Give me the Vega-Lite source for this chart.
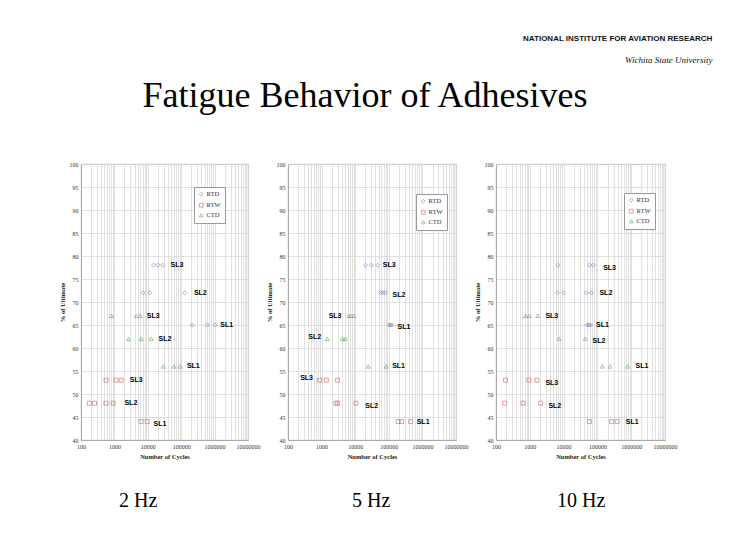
{
  "$schema": "https://vega.github.io/schema/vega-lite/v6.json",
  "background": "white",
  "padding": {"top": 34, "left": 58, "right": 5, "bottom": 5},
  "title": {"text": "NATIONAL INSTITUTE FOR AVIATION RESEARCH", "subtitle": "Wichita State University", "anchor": "end", "dx": 35, "font": "Liberation Sans", "fontSize": 8, "fontWeight": "bold", "color": "#111", "subtitleFont": "Liberation Serif", "subtitleFontStyle": "italic", "subtitleFontSize": 9, "subtitleColor": "#111", "subtitlePadding": 13, "offset": 13},
  "datasets": {
    "points": [
      {"hz": 2, "s": "RTD", "sl": "SL3", "c": 14800, "p": 78}, {"hz": 2, "s": "RTD", "sl": "SL3", "c": 20400, "p": 78}, {"hz": 2, "s": "RTD", "sl": "SL3", "c": 28000, "p": 78},
      {"hz": 2, "s": "RTD", "sl": "SL2", "c": 7400, "p": 72}, {"hz": 2, "s": "RTD", "sl": "SL2", "c": 11500, "p": 72}, {"hz": 2, "s": "RTD", "sl": "SL2", "c": 129000, "p": 72},
      {"hz": 2, "s": "RTD", "sl": "SL1", "c": 214000, "p": 65}, {"hz": 2, "s": "RTD", "sl": "SL1", "c": 617000, "p": 65}, {"hz": 2, "s": "RTD", "sl": "SL1", "c": 1050000, "p": 65},
      {"hz": 2, "s": "CTD", "sl": "SL3", "c": 813, "p": 67}, {"hz": 2, "s": "CTD", "sl": "SL3", "c": 4560, "p": 67}, {"hz": 2, "s": "CTD", "sl": "SL3", "c": 6000, "p": 67},
      {"hz": 2, "s": "CTD", "sl": "SL2", "c": 2650, "p": 62}, {"hz": 2, "s": "CTD", "sl": "SL2", "c": 6300, "p": 62}, {"hz": 2, "s": "CTD", "sl": "SL2", "c": 12600, "p": 62},
      {"hz": 2, "s": "CTD", "sl": "SL1", "c": 29500, "p": 56}, {"hz": 2, "s": "CTD", "sl": "SL1", "c": 61000, "p": 56}, {"hz": 2, "s": "CTD", "sl": "SL1", "c": 93600, "p": 56},
      {"hz": 2, "s": "RTW", "sl": "SL3", "c": 560, "p": 53}, {"hz": 2, "s": "RTW", "sl": "SL3", "c": 1120, "p": 53}, {"hz": 2, "s": "RTW", "sl": "SL3", "c": 1590, "p": 53},
      {"hz": 2, "s": "RTW", "sl": "SL2", "c": 178, "p": 48}, {"hz": 2, "s": "RTW", "sl": "SL2", "c": 254, "p": 48}, {"hz": 2, "s": "RTW", "sl": "SL2", "c": 560, "p": 48}, {"hz": 2, "s": "RTW", "sl": "SL2", "c": 910, "p": 48},
      {"hz": 2, "s": "RTW", "sl": "SL1", "c": 6300, "p": 44}, {"hz": 2, "s": "RTW", "sl": "SL1", "c": 9550, "p": 44},

      {"hz": 5, "s": "RTD", "sl": "SL3", "c": 20400, "p": 78}, {"hz": 5, "s": "RTD", "sl": "SL3", "c": 30200, "p": 78}, {"hz": 5, "s": "RTD", "sl": "SL3", "c": 46600, "p": 78},
      {"hz": 5, "s": "RTD", "sl": "SL2", "c": 57000, "p": 72}, {"hz": 5, "s": "RTD", "sl": "SL2", "c": 66000, "p": 72}, {"hz": 5, "s": "RTD", "sl": "SL2", "c": 79000, "p": 72},
      {"hz": 5, "s": "RTD", "sl": "SL1", "c": 103000, "p": 65}, {"hz": 5, "s": "RTD", "sl": "SL1", "c": 112000, "p": 65}, {"hz": 5, "s": "RTD", "sl": "SL1", "c": 121000, "p": 65},
      {"hz": 5, "s": "CTD", "sl": "SL3", "c": 6400, "p": 67}, {"hz": 5, "s": "CTD", "sl": "SL3", "c": 7600, "p": 67}, {"hz": 5, "s": "CTD", "sl": "SL3", "c": 9100, "p": 67},
      {"hz": 5, "s": "CTD", "sl": "SL2", "c": 1480, "p": 62}, {"hz": 5, "s": "CTD", "sl": "SL2", "c": 4150, "p": 62}, {"hz": 5, "s": "CTD", "sl": "SL2", "c": 5100, "p": 62},
      {"hz": 5, "s": "CTD", "sl": "SL1", "c": 24500, "p": 56}, {"hz": 5, "s": "CTD", "sl": "SL1", "c": 83000, "p": 56},
      {"hz": 5, "s": "RTW", "sl": "SL3", "c": 875, "p": 53}, {"hz": 5, "s": "RTW", "sl": "SL3", "c": 1380, "p": 53}, {"hz": 5, "s": "RTW", "sl": "SL3", "c": 3000, "p": 53},
      {"hz": 5, "s": "RTW", "sl": "SL2", "c": 2630, "p": 48}, {"hz": 5, "s": "RTW", "sl": "SL2", "c": 3000, "p": 48}, {"hz": 5, "s": "RTW", "sl": "SL2", "c": 10500, "p": 48},
      {"hz": 5, "s": "RTW", "sl": "SL1", "c": 190000, "p": 44}, {"hz": 5, "s": "RTW", "sl": "SL1", "c": 240000, "p": 44}, {"hz": 5, "s": "RTW", "sl": "SL1", "c": 447000, "p": 44},

      {"hz": 10, "s": "RTD", "sl": "SL3", "c": 6900, "p": 78}, {"hz": 10, "s": "RTD", "sl": "SL3", "c": 58000, "p": 78}, {"hz": 10, "s": "RTD", "sl": "SL3", "c": 76000, "p": 78},
      {"hz": 10, "s": "RTD", "sl": "SL2", "c": 6600, "p": 72}, {"hz": 10, "s": "RTD", "sl": "SL2", "c": 10000, "p": 72}, {"hz": 10, "s": "RTD", "sl": "SL2", "c": 47000, "p": 72}, {"hz": 10, "s": "RTD", "sl": "SL2", "c": 66000, "p": 72},
      {"hz": 10, "s": "RTD", "sl": "SL1", "c": 49000, "p": 65}, {"hz": 10, "s": "RTD", "sl": "SL1", "c": 56000, "p": 65}, {"hz": 10, "s": "RTD", "sl": "SL1", "c": 62000, "p": 65},
      {"hz": 10, "s": "CTD", "sl": "SL3", "c": 745, "p": 67}, {"hz": 10, "s": "CTD", "sl": "SL3", "c": 980, "p": 67}, {"hz": 10, "s": "CTD", "sl": "SL3", "c": 1730, "p": 67},
      {"hz": 10, "s": "CTD", "sl": "SL2", "c": 7300, "p": 62}, {"hz": 10, "s": "CTD", "sl": "SL2", "c": 43500, "p": 62},
      {"hz": 10, "s": "CTD", "sl": "SL1", "c": 141000, "p": 56}, {"hz": 10, "s": "CTD", "sl": "SL1", "c": 235000, "p": 56}, {"hz": 10, "s": "CTD", "sl": "SL1", "c": 776000, "p": 56},
      {"hz": 10, "s": "RTW", "sl": "SL3", "c": 190, "p": 53}, {"hz": 10, "s": "RTW", "sl": "SL3", "c": 935, "p": 53}, {"hz": 10, "s": "RTW", "sl": "SL3", "c": 1620, "p": 53},
      {"hz": 10, "s": "RTW", "sl": "SL2", "c": 180, "p": 48}, {"hz": 10, "s": "RTW", "sl": "SL2", "c": 635, "p": 48}, {"hz": 10, "s": "RTW", "sl": "SL2", "c": 2100, "p": 48},
      {"hz": 10, "s": "RTW", "sl": "SL1", "c": 58000, "p": 44}, {"hz": 10, "s": "RTW", "sl": "SL1", "c": 263000, "p": 44}, {"hz": 10, "s": "RTW", "sl": "SL1", "c": 383000, "p": 44}
    ],
    "labels": [
      {"hz": 2, "t": "SL3", "c": 47900, "p": 78}, {"hz": 2, "t": "SL2", "c": 240000, "p": 72}, {"hz": 2, "t": "SL1", "c": 1480000, "p": 65},
      {"hz": 2, "t": "SL3", "c": 9300, "p": 67}, {"hz": 2, "t": "SL2", "c": 20900, "p": 62}, {"hz": 2, "t": "SL1", "c": 148000, "p": 56},
      {"hz": 2, "t": "SL3", "c": 2900, "p": 53}, {"hz": 2, "t": "SL2", "c": 2000, "p": 48}, {"hz": 2, "t": "SL1", "c": 14800, "p": 43.5},
      {"hz": 5, "t": "SL3", "c": 66000, "p": 78}, {"hz": 5, "t": "SL2", "c": 129000, "p": 71.5}, {"hz": 5, "t": "SL1", "c": 182000, "p": 64.5},
      {"hz": 5, "t": "SL3", "c": 1620, "p": 67}, {"hz": 5, "t": "SL2", "c": 400, "p": 62.5}, {"hz": 5, "t": "SL1", "c": 126000, "p": 56},
      {"hz": 5, "t": "SL3", "c": 230, "p": 53.5}, {"hz": 5, "t": "SL2", "c": 20000, "p": 47.5}, {"hz": 5, "t": "SL1", "c": 676000, "p": 44},
      {"hz": 10, "t": "SL3", "c": 148000, "p": 77.5}, {"hz": 10, "t": "SL2", "c": 115000, "p": 72}, {"hz": 10, "t": "SL1", "c": 91000, "p": 65},
      {"hz": 10, "t": "SL3", "c": 2900, "p": 67}, {"hz": 10, "t": "SL2", "c": 72000, "p": 61.5}, {"hz": 10, "t": "SL1", "c": 1350000, "p": 56},
      {"hz": 10, "t": "SL3", "c": 2900, "p": 52.5}, {"hz": 10, "t": "SL2", "c": 3550, "p": 47.5}, {"hz": 10, "t": "SL1", "c": 692000, "p": 44}
    ]
  },
  "vconcat": [
    {
      "title": {"text": "Fatigue Behavior of Adhesives", "anchor": "middle", "dx": -3, "font": "Liberation Serif", "fontSize": 36, "fontWeight": "normal", "color": "black", "offset": 46},
      "bounds": "flush",
      "spacing": 40,
      "resolve": {"scale": {"color": "independent", "shape": "independent"}},
      "hconcat": [
        {
          "width": 167, "height": 276,
          "title": {"text": "2 Hz", "orient": "bottom", "anchor": "start", "dx": 60, "font": "Liberation Serif", "fontSize": 20, "fontWeight": "normal", "color": "black", "offset": 31},
          "encoding": {
            "x": {"field": "c", "type": "quantitative", "scale": {"type": "log", "domain": [100, 10000000], "nice": false}, "axis": {"title": "Number of Cycles", "values": [100,200,300,400,500,600,700,800,900,1000,2000,3000,4000,5000,6000,7000,8000,9000,10000,20000,30000,40000,50000,60000,70000,80000,90000,100000,200000,300000,400000,500000,600000,700000,800000,900000,1000000,2000000,3000000,4000000,5000000,6000000,7000000,8000000,9000000,10000000], "labelExpr": "abs(log(datum.value)/LN10 - round(log(datum.value)/LN10)) < 0.000001 ? format(datum.value, 'd') : ''"}},
            "y": {"field": "p", "type": "quantitative", "scale": {"domain": [40, 100], "nice": false}, "axis": {"title": "% of Ultimate", "values": [40,45,50,55,60,65,70,75,80,85,90,95,100]}}
          },
          "layer": [
            {
              "data": {"name": "points"},
              "transform": [{"filter": "datum.hz == 2"}],
              "mark": {"type": "point", "filled": false, "size": 16, "strokeWidth": 0.8},
              "encoding": {
                "color": {"field": "s", "type": "nominal", "scale": {"domain": ["RTD", "RTW", "CTD"], "range": ["#6f6fc4", "#cc5555", "#55a055"]}, "legend": {"title": null, "orient": "none", "legendX": 113, "legendY": 23}},
                "shape": {"field": "s", "type": "nominal", "scale": {"domain": ["RTD", "RTW", "CTD"], "range": ["diamond", "square", "triangle-up"]}, "legend": {"title": null, "orient": "none", "legendX": 113, "legendY": 23}}
              }
            },
            {
              "data": {"name": "labels"},
              "transform": [{"filter": "datum.hz == 2"}],
              "mark": {"type": "text", "align": "left", "baseline": "middle", "font": "Liberation Sans", "fontWeight": "bold", "fontSize": 7, "color": "black"},
              "encoding": {"text": {"field": "t"}}
            }
          ]
        },
        {
          "width": 168, "height": 276,
          "title": {"text": "5 Hz", "orient": "bottom", "anchor": "start", "dx": 86, "font": "Liberation Serif", "fontSize": 20, "fontWeight": "normal", "color": "black", "offset": 31},
          "encoding": {
            "x": {"field": "c", "type": "quantitative", "scale": {"type": "log", "domain": [100, 10000000], "nice": false}, "axis": {"title": "Number of Cycles", "values": [100,200,300,400,500,600,700,800,900,1000,2000,3000,4000,5000,6000,7000,8000,9000,10000,20000,30000,40000,50000,60000,70000,80000,90000,100000,200000,300000,400000,500000,600000,700000,800000,900000,1000000,2000000,3000000,4000000,5000000,6000000,7000000,8000000,9000000,10000000], "labelExpr": "abs(log(datum.value)/LN10 - round(log(datum.value)/LN10)) < 0.000001 ? format(datum.value, 'd') : ''"}},
            "y": {"field": "p", "type": "quantitative", "scale": {"domain": [40, 100], "nice": false}, "axis": {"title": "% of Ultimate", "values": [40,45,50,55,60,65,70,75,80,85,90,95,100]}}
          },
          "layer": [
            {
              "data": {"name": "points"},
              "transform": [{"filter": "datum.hz == 5"}],
              "mark": {"type": "point", "filled": false, "size": 16, "strokeWidth": 0.8},
              "encoding": {
                "color": {"field": "s", "type": "nominal", "scale": {"domain": ["RTD", "RTW", "CTD"], "range": ["#6f6fc4", "#cc5555", "#55a055"]}, "legend": {"title": null, "orient": "none", "legendX": 128, "legendY": 30}},
                "shape": {"field": "s", "type": "nominal", "scale": {"domain": ["RTD", "RTW", "CTD"], "range": ["diamond", "square", "triangle-up"]}, "legend": {"title": null, "orient": "none", "legendX": 128, "legendY": 30}}
              }
            },
            {
              "data": {"name": "labels"},
              "transform": [{"filter": "datum.hz == 5"}],
              "mark": {"type": "text", "align": "left", "baseline": "middle", "font": "Liberation Sans", "fontWeight": "bold", "fontSize": 7, "color": "black"},
              "encoding": {"text": {"field": "t"}}
            }
          ]
        },
        {
          "width": 169, "height": 276,
          "title": {"text": "10 Hz", "orient": "bottom", "anchor": "start", "dx": 83, "font": "Liberation Serif", "fontSize": 20, "fontWeight": "normal", "color": "black", "offset": 31},
          "encoding": {
            "x": {"field": "c", "type": "quantitative", "scale": {"type": "log", "domain": [100, 10000000], "nice": false}, "axis": {"title": "Number of Cycles", "values": [100,200,300,400,500,600,700,800,900,1000,2000,3000,4000,5000,6000,7000,8000,9000,10000,20000,30000,40000,50000,60000,70000,80000,90000,100000,200000,300000,400000,500000,600000,700000,800000,900000,1000000,2000000,3000000,4000000,5000000,6000000,7000000,8000000,9000000,10000000], "labelExpr": "abs(log(datum.value)/LN10 - round(log(datum.value)/LN10)) < 0.000001 ? format(datum.value, 'd') : ''"}},
            "y": {"field": "p", "type": "quantitative", "scale": {"domain": [40, 100], "nice": false}, "axis": {"title": "% of Ultimate", "values": [40,45,50,55,60,65,70,75,80,85,90,95,100]}}
          },
          "layer": [
            {
              "data": {"name": "points"},
              "transform": [{"filter": "datum.hz == 10"}],
              "mark": {"type": "point", "filled": false, "size": 16, "strokeWidth": 0.8},
              "encoding": {
                "color": {"field": "s", "type": "nominal", "scale": {"domain": ["RTD", "RTW", "CTD"], "range": ["#6f6fc4", "#cc5555", "#55a055"]}, "legend": {"title": null, "orient": "none", "legendX": 128, "legendY": 29}},
                "shape": {"field": "s", "type": "nominal", "scale": {"domain": ["RTD", "RTW", "CTD"], "range": ["diamond", "square", "triangle-up"]}, "legend": {"title": null, "orient": "none", "legendX": 128, "legendY": 29}}
              }
            },
            {
              "data": {"name": "labels"},
              "transform": [{"filter": "datum.hz == 10"}],
              "mark": {"type": "text", "align": "left", "baseline": "middle", "font": "Liberation Sans", "fontWeight": "bold", "fontSize": 7, "color": "black"},
              "encoding": {"text": {"field": "t"}}
            }
          ]
        }
      ]
    }
  ],
  "config": {
    "view": {"stroke": "#b0b0b0", "strokeWidth": 0.8},
    "axis": {"grid": true, "gridColor": "#d4d4d4", "gridWidth": 0.7, "domainColor": "#a0a0a0", "domainWidth": 0.8, "ticks": false, "labelFont": "Liberation Serif", "labelFontSize": 6, "labelColor": "#333", "labelPadding": 3, "titleFont": "Liberation Serif", "titleFontSize": 6.5, "titleFontWeight": "bold", "titleColor": "#222", "titlePadding": 4, "labelFlush": false, "labelOverlap": false},
    "legend": {"strokeColor": "#999", "fillColor": "white", "padding": 4, "labelFont": "Liberation Serif", "labelFontSize": 6.5, "labelColor": "#333", "symbolSize": 14, "symbolStrokeWidth": 0.8, "rowPadding": 3, "labelOffset": 2}
  }
}
